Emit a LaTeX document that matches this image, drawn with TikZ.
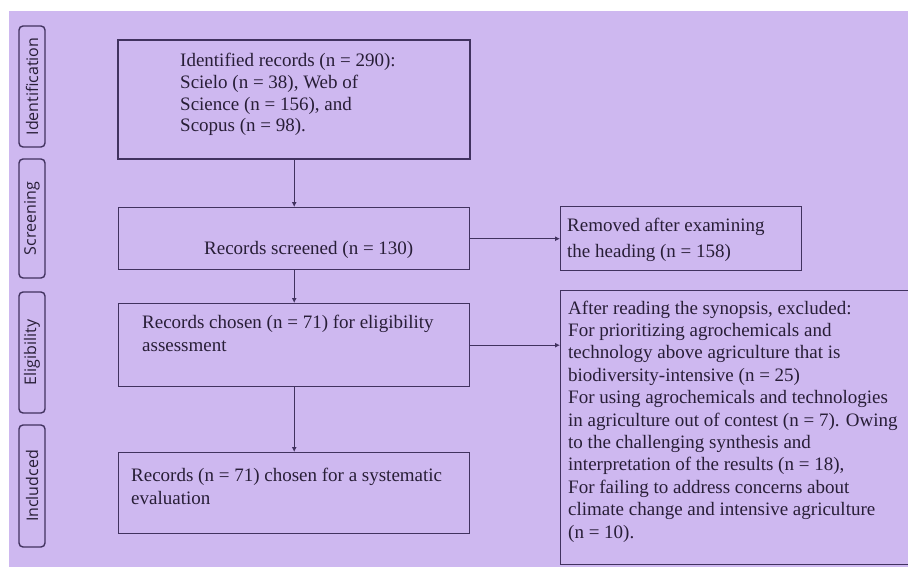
\documentclass[tikz,border=0pt]{standalone}
\usepackage{fontspec}
\setmainfont{Liberation Serif}
\newfontfamily\labelfont{Open Sans}
\usetikzlibrary{arrows.meta}
\definecolor{bgpurple}{RGB}{206,184,240}
\definecolor{edge}{RGB}{65,50,95}
\definecolor{ink}{RGB}{40,30,55}
\begin{document}
\begin{tikzpicture}[x=1pt,y=-1pt,
  box/.style={draw=edge, line width=1.4pt, inner sep=0pt, anchor=north west},
  txt/.style={anchor=base west, inner sep=0pt, align=left, text=ink,
    font=\fontsize{19}{22.4}\selectfont},
  phase/.style={draw=edge, line width=1.4pt, rounded corners=4pt, rotate=90,
    minimum height=26pt, inner sep=0pt, text=ink,
    font=\labelfont\fontsize{16}{16}\selectfont},
  arr/.style={draw=edge, line width=1.1pt, -{Latex[length=5pt,width=5pt]}}]
\useasboundingbox (0,0) rectangle (908,567);
\fill[white] (0,0) rectangle (908,567);
\fill[bgpurple] (9,11) rectangle (908,567);
% phase labels
\node[phase, minimum width=121pt] (p1) at (32,86.5) {Identification};
\node[phase, minimum width=119pt] (p2) at (32,218.5) {Screening};
\node[phase, minimum width=121pt] (p3) at (32,352.5) {Eligibility};
\node[phase, minimum width=122pt] (p4) at (32,486) {Includced};
% boxes
\node[box, line width=2.4pt, minimum width=352pt, minimum height=119pt] (b1) at (117,39) {};
\node[box, minimum width=351pt, minimum height=62pt] (b2) at (118,207) {};
\node[box, minimum width=241pt, minimum height=64pt] (rm) at (560,206) {};
\node[box, minimum width=351pt, minimum height=83pt] (b3) at (118,303) {};
\node[box, minimum width=351pt, minimum height=81pt] (b4) at (118,452) {};
\node[box, minimum width=360pt, minimum height=274pt] (ex) at (560,290) {};
% texts (base anchor = baseline of the last line)
\node[txt, font=\fontsize{19}{21.7}\selectfont] (t1) at (180,132) {Identified records (n = 290):\\Scielo (n = 38), Web of\\Science (n = 156), and\\Scopus (n = 98).};
\node[txt] (t2) at (204,254) {Records screened (n = 130)};
\node[txt, font=\fontsize{19}{26}\selectfont] (t3) at (567,257) {Removed after examining\\the heading (n = 158)};
\node[txt, font=\fontsize{19}{23}\selectfont] (t4) at (142,351) {Records chosen (n = 71) for eligibility\\assessment};
\node[txt, font=\fontsize{19}{23}\selectfont] (t5) at (131,504) {Records (n = 71) chosen for a systematic\\evaluation};
\node[txt] (t6) at (568,538) {After reading the synopsis, excluded:\\For prioritizing agrochemicals and\\technology above agriculture that is\\biodiversity-intensive (n = 25)\\For using agrochemicals and technologies\\in agriculture out of contest (n = 7). Owing\\to the challenging synthesis and\\interpretation of the results (n = 18),\\For failing to address concerns about\\climate change and intensive agriculture\\(n = 10).};
% connectors
\draw[arr] (b1.south) -- (b2.north);
\draw[arr] (b2.south) -- (b3.north);
\draw[arr] (b3.south) -- (b4.north);
\draw[arr] (b2.east) -- (rm.west);
\draw[arr] (b3.east) -- (b3.east -| ex.west);
\end{tikzpicture}
\end{document}
